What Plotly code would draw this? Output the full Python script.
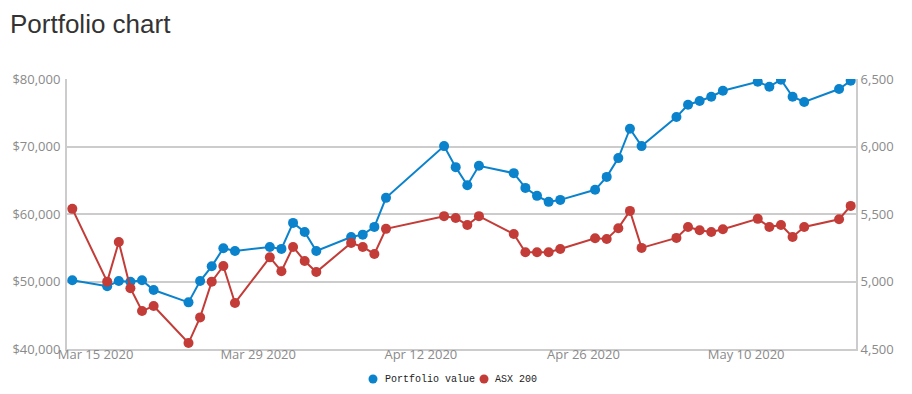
import plotly.graph_objects as go

dates = ["2020-03-13", "2020-03-16", "2020-03-17", "2020-03-18", "2020-03-19", "2020-03-20",
         "2020-03-23", "2020-03-24", "2020-03-25", "2020-03-26", "2020-03-27",
         "2020-03-30", "2020-03-31", "2020-04-01", "2020-04-02", "2020-04-03",
         "2020-04-06", "2020-04-07", "2020-04-08", "2020-04-09",
         "2020-04-14", "2020-04-15", "2020-04-16", "2020-04-17",
         "2020-04-20", "2020-04-21", "2020-04-22", "2020-04-23", "2020-04-24",
         "2020-04-27", "2020-04-28", "2020-04-29", "2020-04-30", "2020-05-01",
         "2020-05-04", "2020-05-05", "2020-05-06", "2020-05-07", "2020-05-08",
         "2020-05-11", "2020-05-12", "2020-05-13", "2020-05-14", "2020-05-15",
         "2020-05-18", "2020-05-19"]

portfolio_value = [50180, 49290, 50070, 49970, 50180, 48740,
                   46910, 50070, 52250, 54930, 54530,
                   55120, 54830, 58680, 57340, 54530,
                   56600, 56940, 58090, 62390,
                   70060, 66940, 64270, 67140,
                   66050, 63870, 62690, 61800, 62090,
                   63580, 65500, 68280, 72630, 70060,
                   74360, 76190, 76740, 77370, 78260,
                   79600, 78860, 79900, 77370, 76590,
                   78520, 79750]

asx_200 = [5538, 4999, 5293, 4950, 4781, 4818,
           4544, 4734, 4999, 5115, 4841,
           5179, 5076, 5256, 5152, 5070,
           5286, 5256, 5204, 5390,
           5484, 5471, 5419, 5484,
           5352, 5217, 5217, 5217, 5241,
           5320, 5315, 5395, 5523, 5249,
           5323, 5404, 5380, 5367, 5387,
           5464, 5404, 5419, 5330, 5404,
           5461, 5560]

series_names = ["Portfolio value", "ASX 200"]

x_tick_vals = ["2020-03-15", "2020-03-29", "2020-04-12", "2020-04-26", "2020-05-10"]
x_tick_text = ["Mar 15 2020", "Mar 29 2020", "Apr 12 2020", "Apr 26 2020", "May 10 2020"]

BLUE = "#0a82cc"
RED = "#c33c38"
GRID = "#cccccc"
TICK = "#8a8a8a"

# figure geometry (page body has 8px margin)
W, H = 896, 378
L, R, T, B = 59, 48, 71, 37
PW, PH = W - L - R, H - T - B


def px_x(fx):
    return (fx - L) / PW


def px_y(fy):
    return (H - B - fy) / PH


fig = go.Figure()
fig.add_trace(go.Scatter(x=dates, y=portfolio_value, name=series_names[0],
                         mode="lines+markers", line=dict(color=BLUE, width=2),
                         marker=dict(color=BLUE, size=10), showlegend=False, yaxis="y"))
fig.add_trace(go.Scatter(x=dates, y=asx_200, name=series_names[1],
                         mode="lines+markers", line=dict(color=RED, width=2),
                         marker=dict(color=RED, size=10), showlegend=False, yaxis="y2"))

# custom legend: dot + label
legend_items = [(series_names[0], BLUE, 365, 375), (series_names[1], RED, 476, 485)]
shapes = []
annotations = [dict(text="Portfolio chart", xref="paper", yref="paper",
                    x=px_x(0), y=px_y(16), xanchor="left", yanchor="middle",
                    showarrow=False,
                    font=dict(family="Liberation Sans, Arial", size=26, color="#333333"))]
for name, col, dot_x, text_x in legend_items:
    shapes.append(dict(type="circle", xref="paper", yref="paper",
                       xsizemode="pixel", ysizemode="pixel",
                       xanchor=px_x(dot_x), yanchor=px_y(371),
                       x0=-4.5, x1=4.5, y0=-4.5, y1=4.5,
                       fillcolor=col, line=dict(width=0)))
    annotations.append(dict(text=name, xref="paper", yref="paper",
                            x=px_x(text_x), y=px_y(371), xanchor="left", yanchor="middle",
                            showarrow=False,
                            font=dict(family="Liberation Mono", size=10, color="#222222")))

fig.update_layout(
    width=W, height=H,
    margin=dict(l=L, r=R, t=T, b=B),
    paper_bgcolor="white", plot_bgcolor="white",
    font=dict(family="Open Sans", size=13, color=TICK),
    showlegend=False,
    shapes=shapes,
    annotations=annotations,
    xaxis=dict(range=["2020-03-12 13:00", "2020-05-19 11:00"],
               tickvals=x_tick_vals, ticktext=x_tick_text, automargin=False,
               showgrid=False, zeroline=False, showline=True, linecolor=GRID, linewidth=2,
               ticks="", ticklabelstandoff=-8, tickfont=dict(size=13, color=TICK)),
    yaxis=dict(range=[40000, 80000], dtick=10000, tickformat="$,", automargin=False,
               showgrid=True, gridcolor=GRID, gridwidth=2, zeroline=False,
               showline=True, linecolor=GRID, linewidth=2, ticks="", ticklabelstandoff=2,
               tickfont=dict(size=13, color=TICK)),
    yaxis2=dict(range=[4500, 6500], dtick=500, tickformat=",", overlaying="y", side="right",
                automargin=False,
                showgrid=False, zeroline=False, showline=True, linecolor=GRID, linewidth=2,
                ticks="", tickfont=dict(size=13, color=TICK)),
)

fig.write_html("out.html")
